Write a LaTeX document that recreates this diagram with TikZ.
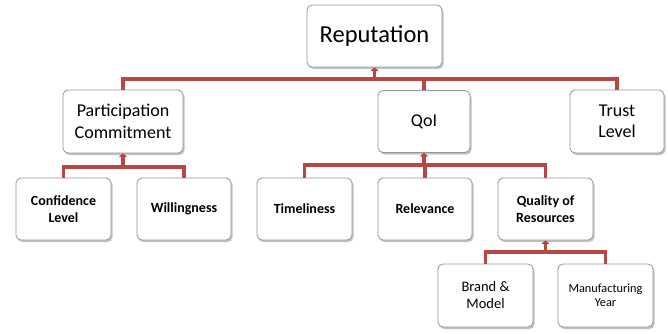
\documentclass[tikz,border=0pt]{standalone}
\usepackage{fontspec}
\setmainfont{Carlito}
\usetikzlibrary{shadows,arrows.meta}
\definecolor{conn}{RGB}{184,70,67}
\definecolor{boxline}{RGB}{150,150,150}
\begin{document}
\begin{tikzpicture}[x=1pt,y=-1pt,
  box/.style={draw=boxline, line width=0.8pt, fill=white, rounded corners=5pt,
    drop shadow={shadow xshift=1.5pt, shadow yshift=-2pt, fill=black!40, opacity=0.6},
    align=center, inner sep=0pt},
  conline/.style={draw=conn, line width=3.5pt},
  up/.style={draw=conn, line width=3.5pt, -{Triangle[round,width=9pt,length=4pt]}}
]
\useasboundingbox (0,0) rectangle (668,333);
% boxes
\node[box, minimum width=135pt, minimum height=62pt, font=\fontsize{24.5}{29}\selectfont] (rep) at (374.5,36) {Reputation};
\node[box, minimum width=120pt, minimum height=63pt, font=\fontsize{18}{21.5}\selectfont] (pc) at (123,121.5) {Participation\\Commitment};
\node[box, minimum width=92pt, minimum height=62pt, font=\fontsize{18}{21.5}\selectfont] (qoi) at (424,121.5) {QoI};
\node[box, minimum width=94pt, minimum height=63pt, font=\fontsize{18}{21.5}\selectfont] (tl) at (617,121.5) {Trust\\Level};
\node[box, minimum width=95pt, minimum height=62pt, font=\bfseries\fontsize{14}{16.5}\selectfont] (cl) at (63.5,209) {Confidence\\Level};
\node[box, minimum width=94pt, minimum height=62pt, font=\bfseries\fontsize{14}{16.5}\selectfont] (wi) at (184,209) {Willingness};
\node[box, minimum width=95pt, minimum height=62pt, font=\bfseries\fontsize{14}{16.5}\selectfont] (ti) at (304.5,209) {Timeliness};
\node[box, minimum width=94pt, minimum height=62pt, font=\bfseries\fontsize{14}{16.5}\selectfont] (re) at (425,209) {Relevance};
\node[box, minimum width=95pt, minimum height=62pt, font=\bfseries\fontsize{14}{16.5}\selectfont] (qr) at (545.5,209) {Quality of\\Resources};
\node[box, minimum width=95pt, minimum height=63pt, font=\fontsize{14.5}{17}\selectfont] (bm) at (485.5,295.5) {Brand \&\\Model};
\node[box, minimum width=95pt, minimum height=63pt, font=\fontsize{12.3}{14.5}\selectfont] (my) at (605.5,295.5) {Manufacturing\\Year};
% level 1 connectors
\coordinate (h1) at (374.5,79);
\draw[conline] (pc.north) -- (pc.north |- h1) -- (tl.north |- h1) -- (tl.north);
\draw[conline] (qoi.north |- h1) -- (qoi.north);
\draw[up] (h1) -- (rep.south);
% level 2 under PC
\coordinate (h2) at (123,167);
\draw[conline] (cl.north) -- (cl.north |- h2) -- (wi.north |- h2) -- (wi.north);
\draw[up] (h2) -- (pc.south);
% level 2 under QoI
\coordinate (h3) at (424,165);
\draw[conline] (ti.north) -- (ti.north |- h3) -- (qr.north |- h3) -- (qr.north);
\draw[conline] (re.north) -- (re.north |- h3);
\draw[up] (qoi.south |- h3) -- (qoi.south);
% level 3 under QR
\coordinate (h4) at (545.5,252);
\draw[conline] (bm.north) -- (bm.north |- h4) -- (my.north |- h4) -- (my.north);
\draw[up] (h4) -- (qr.south);
\end{tikzpicture}
\end{document}
